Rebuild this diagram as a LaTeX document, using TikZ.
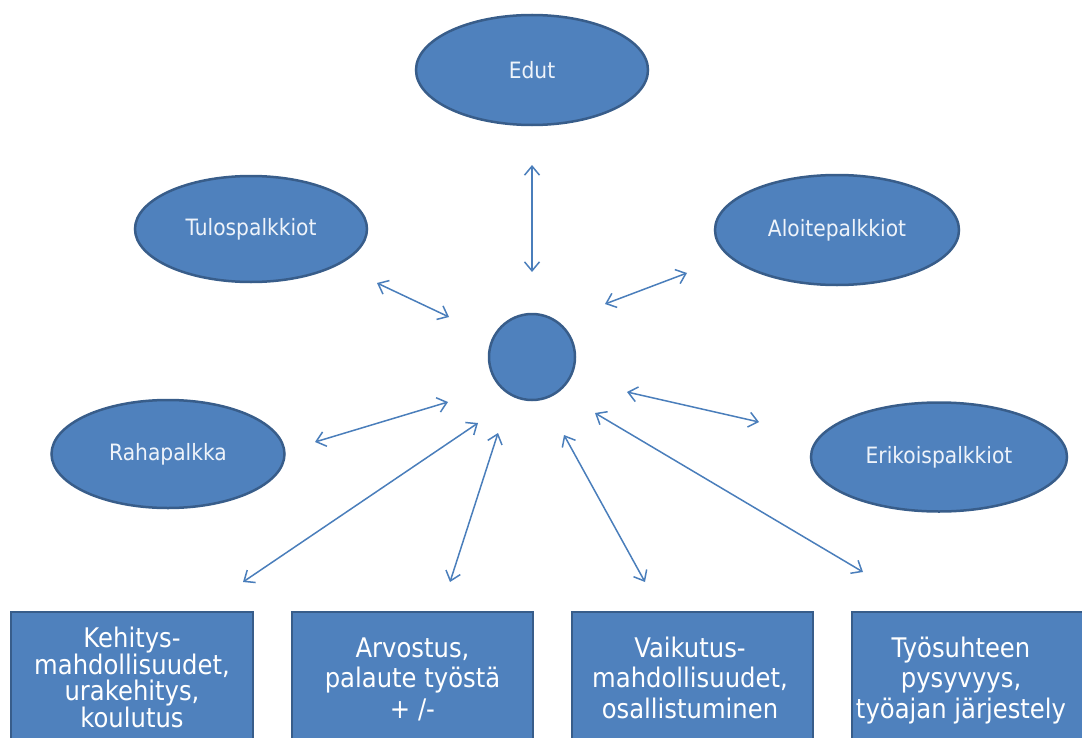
\documentclass[tikz,border=0pt]{standalone}
\usepackage{fontspec}
\setmainfont{DejaVu Sans}[FakeStretch=0.9]
\usetikzlibrary{shapes.geometric,arrows.meta}
\definecolor{fillb}{HTML}{4F81BD}
\definecolor{edgeb}{HTML}{385D8A}
\definecolor{arrowc}{HTML}{4A7EBB}
\definecolor{softw}{HTML}{EEF3FA}
\begin{document}
\begin{tikzpicture}[x=1bp,y=-1bp,
  bub/.style={ellipse, draw=edgeb, fill=fillb, line width=2.5bp, inner sep=0pt,
    text=softw, font=\fontsize{22.5bp}{27bp}\selectfont},
  hubstyle/.style={circle, draw=edgeb, fill=fillb, line width=2.5bp, inner sep=0pt, minimum size=86bp},
  boxstyle/.style={rectangle, draw=edgeb, fill=fillb, line width=2bp, inner sep=0pt,
    minimum width=241bp, minimum height=132bp},
  lbl/.style={text=white, align=center, inner sep=0pt, anchor=north},
  lblA/.style={lbl, font=\fontsize{27bp}{30.5bp}\selectfont},
  lblB/.style={lbl, font=\fontsize{27bp}{26bp}\selectfont},
  link/.style={draw=arrowc, line width=1.5bp,
    {Straight Barb[length=9bp,width=15bp]}-{Straight Barb[length=9bp,width=15bp]}}
]
\clip (0,0) rectangle (1082,738);
\useasboundingbox (0,0) rectangle (1082,738);

% ellipses and hub
\node[bub, minimum width=232bp, minimum height=110bp] (edut) at (532,70) {Edut};
\node[bub, minimum width=232bp, minimum height=106bp] (tulos) at (251,229) {Tulospalkkiot};
\node[bub, minimum width=244bp, minimum height=110bp] (aloite) at (837,230) {Aloitepalkkiot};
\node[bub, minimum width=233bp, minimum height=108bp] (raha) at (168,454) {Rahapalkka};
\node[bub, minimum width=256bp, minimum height=109bp] (erik) at (939,457) {Erikoispalkkiot};
\node[hubstyle] (hub) at (532,357) {};

% boxes
\node[boxstyle] (b1) at (132,678) {};
\node[boxstyle] (b2) at (412.5,678) {};
\node[boxstyle] (b3) at (692.5,678) {};
\node[boxstyle] (b4) at (972.5,678) {};

\node[lblB] (t1) at (132,626.5) {Kehitys-\\mahdollisuudet,\\urakehitys,\\koulutus};
\node[lblA] (t2) at (412.5,637.5) {Arvostus,\\palaute työstä\\+ /-};
\node[lblA] (t3) at (690,636.5) {Vaikutus-\\mahdollisuudet,\\osallistuminen};
\node[lblA] (t4) at (961,636.5) {Työsuhteen\\pysyvyys,\\työajan järjestely};

% arrow end points
\coordinate (a1s) at (532,165); \coordinate (a1e) at (532,272);
\coordinate (a2s) at (377,283); \coordinate (a2e) at (449,317);
\coordinate (a3s) at (605,304); \coordinate (a3e) at (687,273);
\coordinate (a4s) at (315,442); \coordinate (a4e) at (448,402);
\coordinate (a5s) at (627,392); \coordinate (a5e) at (759,422);
\coordinate (a6s) at (243,582); \coordinate (a6e) at (478,423);
\coordinate (a7s) at (450,582); \coordinate (a7e) at (498,433);
\coordinate (a8s) at (564,435); \coordinate (a8e) at (645,582);
\coordinate (a9s) at (595,413); \coordinate (a9e) at (863,572);

\foreach \i in {1,...,9}{\draw[link] (a\i s) -- (a\i e);}
\end{tikzpicture}
\end{document}
